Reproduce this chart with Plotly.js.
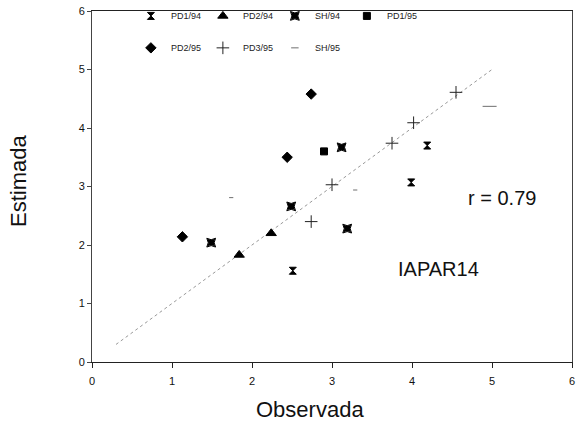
<!DOCTYPE html>
<html>
<head>
<meta charset="utf-8">
<script src="https://cdn.plot.ly/plotly-3.0.1.min.js"></script>
<style>html,body{margin:0;padding:0;background:#fff;}#chart{width:576px;height:424px;}</style>
</head>
<body>
<div id="chart"></div>
<script>
// Data (Observada vs Estimada)
const seriesNames = ["PD1/94", "PD2/94", "SH/94", "PD1/95", "PD2/95", "PD3/95", "SH/95"];
const pd1_94_x = [2.51, 3.99, 4.19];
const pd1_94_y = [1.56, 3.07, 3.70];
const pd2_94_x = [1.84, 2.24];
const pd2_94_y = [1.83, 2.20];
const sh94_x = [1.49, 2.49, 3.12, 3.19];
const sh94_y = [2.04, 2.66, 3.67, 2.28];
const pd1_95_x = [2.90];
const pd1_95_y = [3.60];
const pd2_95_x = [1.13, 2.44, 2.74];
const pd2_95_y = [2.14, 3.50, 4.58];
const pd3_95_x = [2.74, 3.00, 3.75, 4.02, 4.55];
const pd3_95_y = [2.40, 3.03, 3.74, 4.09, 4.61];
const sh95_x = [1.74, 3.29, 4.97];
const sh95_y = [2.81, 2.94, 4.37];
const fitX = [0.3, 5.0];
const fitY = [0.3, 5.0];
const xTicks = [0, 1, 2, 3, 4, 5, 6];
const yTicks = [0, 1, 2, 3, 4, 5, 6];
const xTitle = "Observada";
const yTitle = "Estimada";
const rText = "r = 0.79";
const cultivar = "IAPAR14";

const F = "Liberation Sans, Arial, sans-serif";
function tr(name, x, y, symbol, size, legend, extra) {
  return Object.assign({
    type: 'scatter', mode: 'markers', name: name, x: x, y: y, legend: legend,
    marker: {symbol: symbol, size: size, color: '#000', line: {color: '#000', width: 1}},
    hoverinfo: 'skip'
  }, extra || {});
}
const traces = [
  {type:'scatter', mode:'lines', x: fitX, y: fitY, showlegend:false,
   line:{color:'#999', width:1, dash:'dot'}, hoverinfo:'skip'},
  tr(seriesNames[0], pd1_94_x, pd1_94_y, 'hourglass', 7, 'legend'),
  tr(seriesNames[1], pd2_94_x, pd2_94_y, 'triangle-up', 9, 'legend'),
  tr(seriesNames[2], sh94_x, sh94_y, 'star-square', 8, 'legend'),
  tr(seriesNames[3], pd1_95_x, pd1_95_y, 'square', 7, 'legend'),
  tr(seriesNames[4], pd2_95_x, pd2_95_y, 'diamond', 8, 'legend2'),
  tr(seriesNames[5], pd3_95_x, pd3_95_y, 'cross-thin', 9, 'legend2',
     {marker:{symbol:'cross-thin', size:9, color:'#000', line:{color:'#222', width:1}}}),
  tr(seriesNames[6], sh95_x, sh95_y, 'line-ew', 8, 'legend2',
     {marker:{symbol:'line-ew', size:[3,3,10], color:'#000', line:{color:'#333', width:1}}})
];

const legendCommon = {
  orientation: 'h', xanchor: 'left', yanchor: 'middle',
  font: {family: F, size: 9, color: '#222'},
  bgcolor: 'rgba(0,0,0,0)', entrywidth: 27, entrywidthmode: 'pixels',
  itemsizing: 'trace', itemwidth: 30
};

const layout = {
  width: 576, height: 424,
  margin: {l: 92, r: 4, t: 11, b: 62, autoexpand: false},
  paper_bgcolor: '#fff', plot_bgcolor: '#fff',
  font: {family: F, color: '#111'},
  showlegend: true,
  legend: Object.assign({}, legendCommon, {x: 0.081, y: 0.986}),
  legend2: Object.assign({}, legendCommon, {x: 0.081, y: 0.895}),
  xaxis: {
    range: [0, 6], tickvals: xTicks, ticktext: xTicks.map(String),
    showgrid: false, zeroline: false, showline: true, linecolor: '#222', linewidth: 1,
    mirror: true, ticks: 'outside', ticklen: 5, tickcolor: '#222', ticklabelstandoff: 4,
    tickfont: {family: F, size: 11, color: '#111'},
    title: {text: ''}
  },
  yaxis: {
    range: [0, 6], tickvals: yTicks, ticktext: yTicks.map(String),
    showgrid: false, zeroline: false, showline: true, linecolor: '#444', linewidth: 1,
    mirror: true, ticks: 'outside', ticklen: 4, tickcolor: '#444',
    tickfont: {family: F, size: 11, color: '#111'},
    title: {text: ''}
  },
  annotations: [
    {x: 310, y: 409, xref: 'paper', yref: 'paper', text: xTitle, showarrow: false,
     xanchor: 'center', yanchor: 'middle',
     font: {family: F, size: 22, color: '#111'}},
    {x: 20, y: 181, xref: 'paper', yref: 'paper', text: yTitle, showarrow: false, textangle: -90,
     xanchor: 'center', yanchor: 'middle',
     font: {family: F, size: 22, color: '#111'}},
    {x: 5.125, y: 2.80, xref: 'x', yref: 'y', text: rText, showarrow: false,
     font: {family: F, size: 20, color: '#111'}},
    {x: 4.325, y: 1.59, xref: 'x', yref: 'y', text: cultivar, showarrow: false,
     font: {family: F, size: 20, color: '#111'}}
  ]
};
// convert pixel-placed axis titles to paper coords
const pw = 576 - 92 - 4, ph = 424 - 11 - 62;
layout.annotations[0].x = (310 - 92) / pw; layout.annotations[0].y = (424 - 62 - 409) / ph;
layout.annotations[1].x = (18 - 92) / pw; layout.annotations[1].y = (424 - 62 - 181) / ph;

Plotly.newPlot('chart', traces, layout, {displayModeBar: false, staticPlot: true});
</script>
</body>
</html>
